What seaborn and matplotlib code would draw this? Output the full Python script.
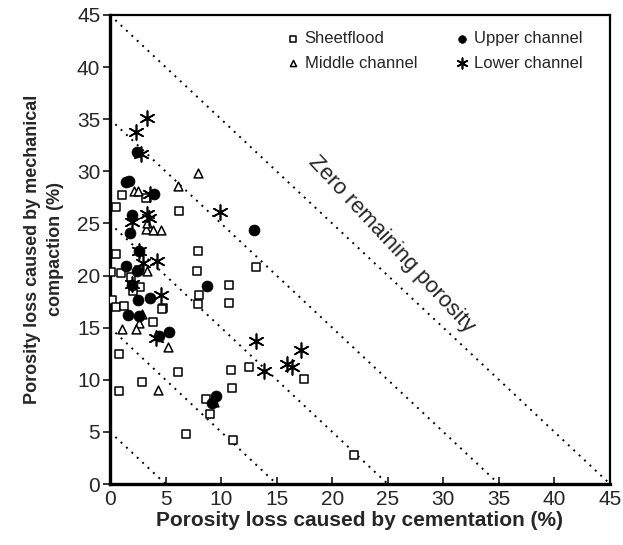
import matplotlib
matplotlib.use("Agg")
import matplotlib.pyplot as plt
import seaborn as sns
import pandas as pd
import numpy as np

# Porosity loss (%) by cementation (x) and mechanical compaction (y)
sheet_x = [1.1, 3.2, 6.2, 0.5, 0.5, 7.9, 0.1, 1.0, 2.6, 1.9, 7.8, 2.7, 2.1,
           8.0, 0.2, 0.5, 1.3, 4.8, 7.9, 3.9, 4.7, 0.8, 6.1, 2.9, 0.8, 8.6, 13.1,
           10.7, 10.7, 12.5, 10.9, 17.5, 11.0, 9.0, 6.8, 11.1, 22.0]
sheet_y = [27.7, 27.4, 26.2, 26.6, 22.1, 22.4, 20.3, 20.2, 20.5, 19.9, 20.4, 18.9, 18.5,
           18.1, 17.7, 17.0, 17.1, 16.9, 17.3, 15.5, 16.8, 12.5, 10.7, 9.8, 8.9, 8.2, 20.8,
           19.1, 17.4, 11.2, 10.9, 10.1, 9.2, 6.7, 4.8, 4.2, 2.8]

upper_x = [2.4, 1.4, 1.7, 4.0, 2.0, 1.8, 2.6, 1.4, 2.4, 2.0, 2.5, 3.6, 8.7, 1.6, 2.6,
           5.3, 4.4, 13.0, 9.5, 9.2]
upper_y = [31.9, 29.0, 29.1, 27.8, 25.8, 24.1, 22.4, 20.9, 20.4, 19.1, 17.7, 17.8, 19.0, 16.2, 16.1,
           14.6, 14.2, 24.4, 8.4, 7.8]

middle_x = [7.9, 6.1, 2.2, 2.5, 3.2, 3.9, 4.6, 3.3, 3.3, 2.9, 2.6, 1.1, 2.3, 5.2, 4.3, 9.4]
middle_y = [29.8, 28.6, 28.1, 28.1, 24.5, 24.4, 24.4, 25.0, 20.4, 16.3, 15.4, 14.9, 14.9, 13.1, 9.0, 7.9]

lower_x = [3.3, 2.3, 2.8, 3.6, 3.3, 3.5, 2.0, 2.6, 4.2, 3.0, 2.0, 4.6, 4.1, 9.9, 13.1,
           17.2, 15.9, 16.4, 13.9]
lower_y = [35.1, 33.8, 31.7, 27.8, 25.9, 25.5, 25.1, 22.4, 21.4, 21.2, 19.2, 18.1, 14.0, 26.1, 13.7,
           12.9, 11.5, 11.2, 10.8]

# Lines of constant total porosity loss (x + y = c)
iso_levels = [5, 15, 25, 35, 45]
ticks = [0, 5, 10, 15, 20, 25, 30, 35, 40, 45]

df = pd.concat([
    pd.DataFrame({"cem": sheet_x, "comp": sheet_y, "facies": "Sheetflood"}),
    pd.DataFrame({"cem": upper_x, "comp": upper_y, "facies": "Upper channel"}),
    pd.DataFrame({"cem": middle_x, "comp": middle_y, "facies": "Middle channel"}),
    pd.DataFrame({"cem": lower_x, "comp": lower_y, "facies": "Lower channel"}),
], ignore_index=True)

sns.set_style("white")
plt.rcParams["font.family"] = ["Liberation Sans", "DejaVu Sans"]

fig = plt.figure(figsize=(6.23, 5.45), dpi=100)
ax = fig.add_axes([110 / 623, 61 / 545, 500 / 623, 469 / 545])

for c in iso_levels:
    ax.plot([0, c], [c, 0], color="black", lw=1.4, linestyle=(0, (1, 2.8)), zorder=1)

styles = {
    "Sheetflood": dict(marker="s", s=32, facecolor="white", edgecolor="black", linewidth=1.1),
    "Upper channel": dict(marker="o", s=62, color="black", edgecolor="black", linewidth=0.5),
    "Middle channel": dict(marker="^", s=40, facecolor="white", edgecolor="black", linewidth=1.1),
    "Lower channel": dict(marker=(6, 2, 0), s=115, color="black", linewidth=1.2),
}
for name in ["Sheetflood", "Middle channel", "Upper channel", "Lower channel"]:
    sub = df[df["facies"] == name]
    sns.scatterplot(data=sub, x="cem", y="comp", ax=ax, label=name, zorder=3,
                    **styles[name])

ax.set_xlim(0, 45)
ax.set_ylim(0, 45)
ax.set_xticks(ticks)
ax.set_yticks(ticks)
ax.tick_params(axis="x", direction="in", length=5, width=1.3, labelsize=15, pad=4)
ax.tick_params(axis="y", direction="out", length=5, width=1.3, labelsize=15, pad=2)
ax.tick_params(left=True, bottom=True)

for side in ["left", "bottom"]:
    ax.spines[side].set_linewidth(2.4)
for side in ["top", "right"]:
    ax.spines[side].set_linewidth(1.6)
for sp in ax.spines.values():
    sp.set_color("black")

ax.set_xlabel("Porosity loss caused by cementation (%)", fontsize=15, fontweight="bold", labelpad=2)
ax.set_ylabel("Porosity loss caused by mechanical\ncompaction (%)", fontsize=13,
              fontweight="bold", labelpad=9, linespacing=1.5)

ax.text(25.3, 23.0, "Zero remaining porosity", rotation=-47,
        rotation_mode="anchor", ha="center", va="center", fontsize=16)

handles, labels = ax.get_legend_handles_labels()
ax.legend(handles, labels, ncol=2, frameon=False, loc="upper right",
          bbox_to_anchor=(0.975, 0.997), fontsize=12, markerscale=0.7,
          handletextpad=0.2, columnspacing=2.2, labelspacing=0.55, handlelength=1.0)

fig.savefig("out.png", dpi=100)
